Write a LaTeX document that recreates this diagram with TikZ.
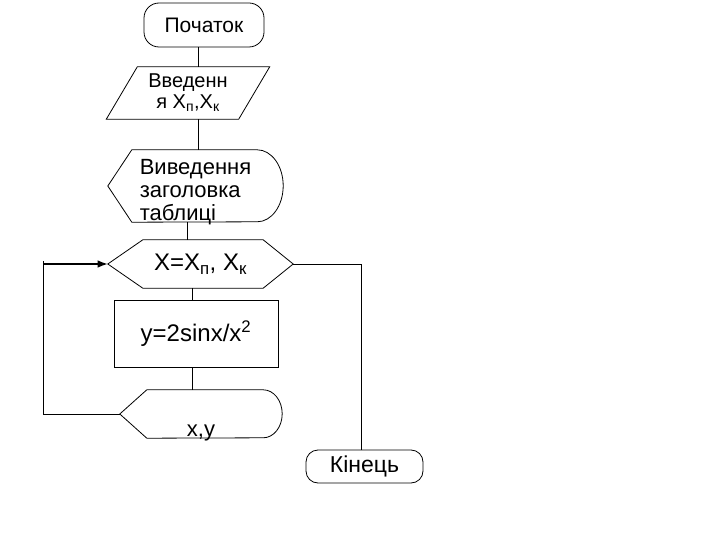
\documentclass[tikz,border=0pt]{standalone}
\usepackage{fontspec}
\setmainfont{Liberation Sans}
\setsansfont{Liberation Sans}
\usetikzlibrary{arrows.meta, positioning, calc}
\tikzset{
    font=\sffamily,
    >=Latex,
    % Shapes
    outline/.style={draw, line width=0.8pt},
    term/.style={rectangle, outline, rounded corners=15pt, align=center, inner sep=0pt},
    proc/.style={rectangle, outline, align=center, inner sep=0pt},
    body/.style={inner sep=0pt, align=center},
    % Flow
    flow/.style={line width=0.8pt},
    back/.style={->, line width=1.6pt}
}

\begin{document}
\begin{tikzpicture}[x=1pt, y=1pt]
\useasboundingbox (0,0) rectangle (720,-540);

\node[term, minimum width=120pt, minimum height=44pt, font=\fontsize{21}{23}\selectfont] (start) at (204,-25) {Початок};
\node[body, minimum width=132pt, minimum height=52pt, font=\fontsize{20}{21}\selectfont] (input) at (188,-93) {Введенн\\я X\textsubscript{п},X\textsubscript{к}};
\node[body, minimum width=175pt, minimum height=72pt, text height=0pt, text depth=22pt, font=\fontsize{22}{22.5}\selectfont] (title) at (195.5,-186)
    {\begin{tabular}[t]{@{}l@{}}Виведення\\заголовка\\таблиці\end{tabular}};
\node[body, minimum width=185pt, minimum height=48pt, font=\fontsize{24}{26}\selectfont] (hex) at (200.5,-264) {X=X\textsubscript{п}, X\textsubscript{к}};
\node[proc, minimum width=164pt, minimum height=67pt, font=\fontsize{24}{26}\selectfont] (calc) at (196,-333.5) {y=2sinx/x\textsuperscript{2}};
\node[body, minimum width=162pt, minimum height=48pt, text height=44pt, text depth=0pt, font=\fontsize{22}{24}\selectfont] (res) at (201,-414) {x,y};
\node[term, rounded corners=12pt, minimum width=117pt, minimum height=33pt, font=\fontsize{23}{25}\selectfont] (finish) at (364.5,-466.5) {Кінець};

% outlines
\draw[outline] ([xshift=15.5]input.north west) -- ([xshift=15.5]input.north east)
    -- ([xshift=-15.5]input.south east) -- ([xshift=-15.5]input.south west) -- cycle;
\draw[outline] (title.west) -- ([xshift=24]title.north west) -- ([xshift=-26]title.north east)
    arc[start angle=90, end angle=-90, x radius=26pt, y radius=36pt]
    -- ([xshift=24]title.south west) -- cycle;
\draw[outline] (hex.west) -- ([xshift=35]hex.north west) -- ([xshift=-30]hex.north east)
    -- (hex.east) -- ([xshift=-30]hex.south east) -- ([xshift=35]hex.south west) -- cycle;
\draw[outline] (res.west) -- ([xshift=27]res.north west) -- ([xshift=-19]res.north east)
    arc[start angle=90, end angle=-90, x radius=19pt, y radius=24pt]
    -- ([xshift=27]res.south west) -- cycle;

% connectors
\coordinate (axisA) at (198,0);
\coordinate (axisB) at (187,0);
\coordinate (axisC) at (192,0);
\coordinate (loopX) at (43,0);
\coordinate (exitX) at (361,0);
\draw[flow] (start.south -| axisA) -- (input.north -| axisA);
\draw[flow] (input.south -| axisA) -- (title.north -| axisA);
\draw[flow] (title.south -| axisB) -- (hex.north -| axisB);
\draw[flow] (hex.south -| axisC) -- (calc.north -| axisC);
\draw[flow] (calc.south -| axisC) -- (res.north -| axisC);
\draw[flow] (res.west) -- (res.west -| loopX) -- ([yshift=3]hex.west -| loopX);
\draw[back] (hex.west -| loopX) -- (hex.west);
\draw[flow] (hex.east) -- (hex.east -| exitX) -- (finish.north -| exitX);

\end{tikzpicture}
\end{document}
